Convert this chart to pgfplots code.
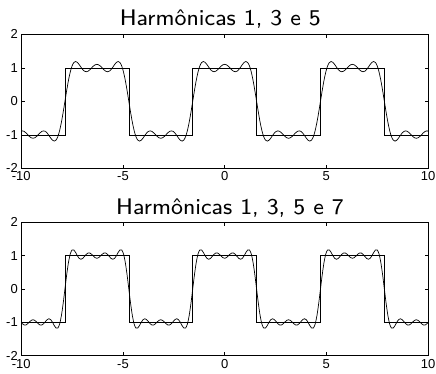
\documentclass[border=0pt]{standalone}
\usepackage{fontspec}
\setmainfont{Liberation Sans}
\newfontfamily\titlefont{lmsans8-regular.otf}
\usepackage{pgfplots}
\usepackage{pgfplotstable}
\pgfplotsset{compat=1.18}

\pgfplotstableread{
x f3 f4
-10.0356 -0.8991 -0.9760
-9.9484 -0.8821 -1.0396
-9.8611 -0.8980 -1.0792
-9.7738 -0.9400 -1.0794
-9.6866 -0.9957 -1.0427
-9.5993 -1.0500 -0.9878
-9.5120 -1.0892 -0.9402
-9.4248 -1.1035 -0.9216
-9.3375 -1.0892 -0.9402
-9.2502 -1.0500 -0.9878
-9.1630 -0.9957 -1.0427
-9.0757 -0.9400 -1.0794
-8.9884 -0.8980 -1.0792
-8.9012 -0.8821 -1.0396
-8.8139 -0.8991 -0.9760
-8.7266 -0.9483 -0.9167
-8.6394 -1.0204 -0.8917
-8.5521 -1.0989 -0.9198
-8.4648 -1.1625 -0.9976
-8.3776 -1.1884 -1.0974
-8.2903 -1.1566 -1.1725
-8.2030 -1.0538 -1.1707
-8.1158 -0.8756 -1.0513
-8.0285 -0.6284 -0.7993
-7.9412 -0.3284 -0.4328
-7.8540 0 0
-7.7667 0.3284 0.4328
-7.6794 0.6284 0.7993
-7.5922 0.8756 1.0513
-7.5049 1.0538 1.1707
-7.4176 1.1566 1.1725
-7.3304 1.1884 1.0974
-7.2431 1.1625 0.9976
-7.1558 1.0989 0.9198
-7.0686 1.0204 0.8917
-6.9813 0.9483 0.9167
-6.8941 0.8991 0.9760
-6.8068 0.8821 1.0396
-6.7195 0.8980 1.0792
-6.6323 0.9400 1.0794
-6.5450 0.9957 1.0427
-6.4577 1.0500 0.9878
-6.3705 1.0892 0.9402
-6.2832 1.1035 0.9216
-6.1959 1.0892 0.9402
-6.1087 1.0500 0.9878
-6.0214 0.9957 1.0427
-5.9341 0.9400 1.0794
-5.8469 0.8980 1.0792
-5.7596 0.8821 1.0396
-5.6723 0.8991 0.9760
-5.5851 0.9483 0.9167
-5.4978 1.0204 0.8917
-5.4105 1.0989 0.9198
-5.3233 1.1625 0.9976
-5.2360 1.1884 1.0974
-5.1487 1.1566 1.1725
-5.0615 1.0538 1.1707
-4.9742 0.8756 1.0513
-4.8869 0.6284 0.7993
-4.7997 0.3284 0.4328
-4.7124 0 0
-4.6251 -0.3284 -0.4328
-4.5379 -0.6284 -0.7993
-4.4506 -0.8756 -1.0513
-4.3633 -1.0538 -1.1707
-4.2761 -1.1566 -1.1725
-4.1888 -1.1884 -1.0974
-4.1015 -1.1625 -0.9976
-4.0143 -1.0989 -0.9198
-3.9270 -1.0204 -0.8917
-3.8397 -0.9483 -0.9167
-3.7525 -0.8991 -0.9760
-3.6652 -0.8821 -1.0396
-3.5779 -0.8980 -1.0792
-3.4907 -0.9400 -1.0794
-3.4034 -0.9957 -1.0427
-3.3161 -1.0500 -0.9878
-3.2289 -1.0892 -0.9402
-3.1416 -1.1035 -0.9216
-3.0543 -1.0892 -0.9402
-2.9671 -1.0500 -0.9878
-2.8798 -0.9957 -1.0427
-2.7925 -0.9400 -1.0794
-2.7053 -0.8980 -1.0792
-2.6180 -0.8821 -1.0396
-2.5307 -0.8991 -0.9760
-2.4435 -0.9483 -0.9167
-2.3562 -1.0204 -0.8917
-2.2689 -1.0989 -0.9198
-2.1817 -1.1625 -0.9976
-2.0944 -1.1884 -1.0974
-2.0071 -1.1566 -1.1725
-1.9199 -1.0538 -1.1707
-1.8326 -0.8756 -1.0513
-1.7453 -0.6284 -0.7993
-1.6581 -0.3284 -0.4328
-1.5708 0 0
-1.4835 0.3284 0.4328
-1.3963 0.6284 0.7993
-1.3090 0.8756 1.0513
-1.2217 1.0538 1.1707
-1.1345 1.1566 1.1725
-1.0472 1.1884 1.0974
-0.9599 1.1625 0.9976
-0.8727 1.0989 0.9198
-0.7854 1.0204 0.8917
-0.6981 0.9483 0.9167
-0.6109 0.8991 0.9760
-0.5236 0.8821 1.0396
-0.4363 0.8980 1.0792
-0.3491 0.9400 1.0794
-0.2618 0.9957 1.0427
-0.1745 1.0500 0.9878
-0.0873 1.0892 0.9402
0.0000 1.1035 0.9216
0.0873 1.0892 0.9402
0.1745 1.0500 0.9878
0.2618 0.9957 1.0427
0.3491 0.9400 1.0794
0.4363 0.8980 1.0792
0.5236 0.8821 1.0396
0.6109 0.8991 0.9760
0.6981 0.9483 0.9167
0.7854 1.0204 0.8917
0.8727 1.0989 0.9198
0.9599 1.1625 0.9976
1.0472 1.1884 1.0974
1.1345 1.1566 1.1725
1.2217 1.0538 1.1707
1.3090 0.8756 1.0513
1.3963 0.6284 0.7993
1.4835 0.3284 0.4328
1.5708 0 0
1.6581 -0.3284 -0.4328
1.7453 -0.6284 -0.7993
1.8326 -0.8756 -1.0513
1.9199 -1.0538 -1.1707
2.0071 -1.1566 -1.1725
2.0944 -1.1884 -1.0974
2.1817 -1.1625 -0.9976
2.2689 -1.0989 -0.9198
2.3562 -1.0204 -0.8917
2.4435 -0.9483 -0.9167
2.5307 -0.8991 -0.9760
2.6180 -0.8821 -1.0396
2.7053 -0.8980 -1.0792
2.7925 -0.9400 -1.0794
2.8798 -0.9957 -1.0427
2.9671 -1.0500 -0.9878
3.0543 -1.0892 -0.9402
3.1416 -1.1035 -0.9216
3.2289 -1.0892 -0.9402
3.3161 -1.0500 -0.9878
3.4034 -0.9957 -1.0427
3.4907 -0.9400 -1.0794
3.5779 -0.8980 -1.0792
3.6652 -0.8821 -1.0396
3.7525 -0.8991 -0.9760
3.8397 -0.9483 -0.9167
3.9270 -1.0204 -0.8917
4.0143 -1.0989 -0.9198
4.1015 -1.1625 -0.9976
4.1888 -1.1884 -1.0974
4.2761 -1.1566 -1.1725
4.3633 -1.0538 -1.1707
4.4506 -0.8756 -1.0513
4.5379 -0.6284 -0.7993
4.6251 -0.3284 -0.4328
4.7124 0 0
4.7997 0.3284 0.4328
4.8869 0.6284 0.7993
4.9742 0.8756 1.0513
5.0615 1.0538 1.1707
5.1487 1.1566 1.1725
5.2360 1.1884 1.0974
5.3233 1.1625 0.9976
5.4105 1.0989 0.9198
5.4978 1.0204 0.8917
5.5851 0.9483 0.9167
5.6723 0.8991 0.9760
5.7596 0.8821 1.0396
5.8469 0.8980 1.0792
5.9341 0.9400 1.0794
6.0214 0.9957 1.0427
6.1087 1.0500 0.9878
6.1959 1.0892 0.9402
6.2832 1.1035 0.9216
6.3705 1.0892 0.9402
6.4577 1.0500 0.9878
6.5450 0.9957 1.0427
6.6323 0.9400 1.0794
6.7195 0.8980 1.0792
6.8068 0.8821 1.0396
6.8941 0.8991 0.9760
6.9813 0.9483 0.9167
7.0686 1.0204 0.8917
7.1558 1.0989 0.9198
7.2431 1.1625 0.9976
7.3304 1.1884 1.0974
7.4176 1.1566 1.1725
7.5049 1.0538 1.1707
7.5922 0.8756 1.0513
7.6794 0.6284 0.7993
7.7667 0.3284 0.4328
7.8540 0 0
7.9412 -0.3284 -0.4328
8.0285 -0.6284 -0.7993
8.1158 -0.8756 -1.0513
8.2030 -1.0538 -1.1707
8.2903 -1.1566 -1.1725
8.3776 -1.1884 -1.0974
8.4648 -1.1625 -0.9976
8.5521 -1.0989 -0.9198
8.6394 -1.0204 -0.8917
8.7266 -0.9483 -0.9167
8.8139 -0.8991 -0.9760
8.9012 -0.8821 -1.0396
8.9884 -0.8980 -1.0792
9.0757 -0.9400 -1.0794
9.1630 -0.9957 -1.0427
9.2502 -1.0500 -0.9878
9.3375 -1.0892 -0.9402
9.4248 -1.1035 -0.9216
9.5120 -1.0892 -0.9402
9.5993 -1.0500 -0.9878
9.6866 -0.9957 -1.0427
9.7738 -0.9400 -1.0794
9.8611 -0.8980 -1.0792
9.9484 -0.8821 -1.0396
10.0356 -0.8991 -0.9760
}\fourier

\pgfplotsset{
  sqaxis/.style={
    scale only axis, width=406.7pt, height=134pt,
    anchor=south west,
    xmin=-10, xmax=10, ymin=-2, ymax=2,
    xtick={-10,-5,0,5,10}, ytick={-2,-1,0,1,2},
    tick align=inside, major tick length=3.5pt,
    axis line style={line width=0.8pt, black},
    every tick/.style={black, line width=0.6pt},
    tick label style={font=\fontsize{13}{13}\selectfont, black},
    /pgf/number format/assume math mode=true,
  }
}

\begin{document}
\begin{tikzpicture}
\path[use as bounding box] (0pt,0pt) rectangle (436pt,373pt);
\begin{axis}[sqaxis, at={(21.3pt,204.7pt)}]
\addplot[black, line width=0.7pt, smooth, tension=0.5] table[x=x, y=f3] {\fourier};
\addplot[black, line width=0.6pt] coordinates {(-10,-1) (-7.854,-1) (-7.854,1) (-4.712,1) (-4.712,-1) (-1.571,-1) (-1.571,1) (1.571,1) (1.571,-1) (4.712,-1) (4.712,1) (7.854,1) (7.854,-1) (10,-1)};
\end{axis}
\begin{axis}[sqaxis, at={(21.3pt,17.3pt)}, height=133.4pt]
\addplot[black, line width=0.7pt, smooth, tension=0.5] table[x=x, y=f4] {\fourier};
\addplot[black, line width=0.6pt] coordinates {(-10,-1) (-7.854,-1) (-7.854,1) (-4.712,1) (-4.712,-1) (-1.571,-1) (-1.571,1) (1.571,1) (1.571,-1) (4.712,-1) (4.712,1) (7.854,1) (7.854,-1) (10,-1)};
\end{axis}
\node[anchor=base, inner sep=0pt, font=\titlefont\fontsize{22.5}{22.5}\selectfont] at (220.3pt,347pt) {Harmônicas 1, 3 e 5};
\node[anchor=base, inner sep=0pt, font=\titlefont\fontsize{22.5}{22.5}\selectfont] at (230pt,159pt) {Harmônicas 1, 3, 5 e 7};
\end{tikzpicture}
\end{document}
